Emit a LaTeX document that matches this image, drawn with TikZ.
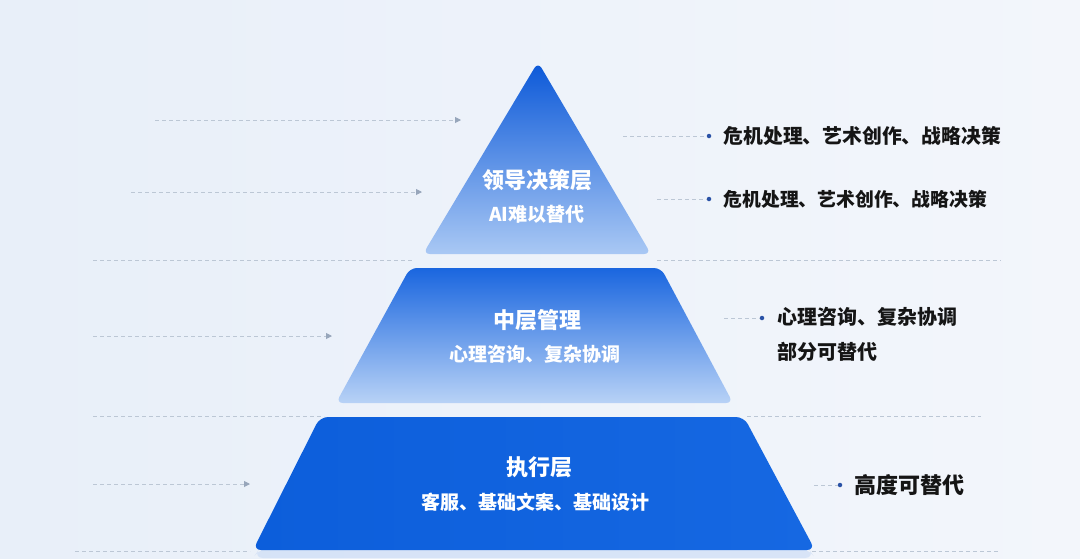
\documentclass[tikz,border=0pt]{standalone}
\usepackage{fontspec}
\setmainfont{Noto Sans CJK SC}
\usetikzlibrary{arrows.meta, positioning, calc}
\definecolor{darkblue}{HTML}{0B58D8}
\definecolor{paleblue}{HTML}{A9C8F4}
\definecolor{midblue}{HTML}{1A66DF}
\definecolor{midpale}{HTML}{B8D2F6}
\definecolor{baseblue}{HTML}{0C5EDB}
\definecolor{baseblue2}{HTML}{1668E2}
\definecolor{dashgray}{HTML}{BCC7D5}
\definecolor{tipgray}{HTML}{97A6BB}
\definecolor{dotblue}{HTML}{2A52A6}
\definecolor{inkblack}{HTML}{151515}
\definecolor{bgleft}{HTML}{E8EFF9}
\definecolor{bgright}{HTML}{F3F6FB}
\definecolor{glow}{HTML}{C9DAF5}

\begin{document}
\begin{tikzpicture}[x=1pt, y=-1pt, >=Stealth]
        % Styles
        \tikzstyle{guide} = [dashgray, dash pattern=on 4pt off 3pt, line width=0.9pt]
        \tikzstyle{pointer} = [guide, -{Triangle[length=6pt, width=6pt, color=tipgray]}]
        \tikzstyle{title} = [text=white, font=\bfseries\fontsize{22}{26}\selectfont, inner sep=0pt]
        \tikzstyle{subtitle} = [text=white, font=\bfseries\fontsize{19}{23}\selectfont, inner sep=0pt]
        \tikzstyle{bullet} = [circle, fill=dotblue, inner sep=0pt, minimum size=4.5pt]
        \tikzstyle{note} = [text=inkblack, font=\bfseries\fontsize{19.8}{35}\selectfont, inner sep=0pt, anchor=west, align=left]

        % Background
        \shade[left color=bgleft, right color=bgright] (0,0) rectangle (1080,558);
        \useasboundingbox (0,0) rectangle (1080,558);

        % Layers
        \shade[top color=darkblue, bottom color=paleblue, rounded corners=7pt] (538,62) -- (651,254) -- (423,254) -- cycle;
        \shade[top color=midblue, bottom color=midpale, rounded corners=7pt] (410,268) -- (661,268) -- (733,403) -- (336,403) -- cycle;
        \fill[glow, opacity=0.6, rounded corners=10pt] (260,548) -- (808,548) -- (815,558) -- (253,558) -- cycle;
        \shade[left color=baseblue, right color=baseblue2, rounded corners=8pt] (320,417) -- (744,417) -- (815,550) -- (253,550) -- cycle;

        % Layer texts
        \node[title] (lead) at (537,180) {领导决策层};
        \node[subtitle] (leadsub) at (537,214) {AI难以替代};
        \node[title] (mid) at (537,320) {中层管理};
        \node[subtitle] (midsub) at (535,354) {心理咨询、复杂协调};
        \node[title] (exec) at (539,467) {执行层};
        \node[subtitle] (execsub) at (535,502) {客服、基础文案、基础设计};

        % Left guides
        \coordinate (in1) at (155,120);   \coordinate (to1) at (461,120);
        \coordinate (in2) at (131,192);   \coordinate (to2) at (422,192);
        \coordinate (in3) at (93,336);    \coordinate (to3) at (332,336);
        \coordinate (in4) at (93,484);    \coordinate (to4) at (250,484);
        \coordinate (sep1a) at (93,260);  \coordinate (sep1b) at (413,260);
        \coordinate (sep2a) at (93,416);  \coordinate (sep2b) at (324,416);
        \coordinate (sep3a) at (75,551);  \coordinate (sep3b) at (250,551);
        \coordinate (sep4a) at (657,260); \coordinate (sep4b) at (1001,260);
        \coordinate (sep5a) at (747,416); \coordinate (sep5b) at (981,416);
        \coordinate (sep6a) at (812,551); \coordinate (sep6b) at (1000,551);

        % Right notes
        \node[bullet] (dot1) at (709,136) {};
        \node[note, right=12pt of dot1] (note1) {危机处理、艺术创作、战略决策};
        \node[bullet] (dot2) at (709,199) {};
        \node[note, right=12pt of dot2, font=\bfseries\fontsize{18.8}{22}\selectfont] (note2) {危机处理、艺术创作、战略决策};
        \node[bullet] (dot3) at (762,318) {};
        \node[note, right=13pt of dot3, anchor=north west, yshift=11pt, font=\bfseries\fontsize{20}{35}\selectfont] (note3) {心理咨询、复杂协调\\部分可替代};
        \node[bullet] (dot4) at (840,485) {};
        \node[note, right=12pt of dot4, font=\bfseries\fontsize{22}{26}\selectfont] (note4) {高度可替代};
        \coordinate (tail1) at (623,136);
        \coordinate (tail2) at (657,199);
        \coordinate (tail3) at (724,318);
        \coordinate (tail4) at (814,485);

        % Paths
        \draw[pointer] (in1) -- (to1);
        \draw[pointer] (in2) -- (to2);
        \draw[pointer] (in3) -- (to3);
        \draw[pointer] (in4) -- (to4);
        \draw[guide] (sep1a) -- (sep1b);
        \draw[guide] (sep2a) -- (sep2b);
        \draw[guide] (sep3a) -- (sep3b);
        \draw[guide] (sep4a) -- (sep4b);
        \draw[guide] (sep5a) -- (sep5b);
        \draw[guide] (sep6a) -- (sep6b);
        \draw[guide] (tail1) -- (dot1);
        \draw[guide] (tail2) -- (dot2);
        \draw[guide] (tail3) -- (dot3);
        \draw[guide] (tail4) -- (dot4);
    \end{tikzpicture}
\end{document}
